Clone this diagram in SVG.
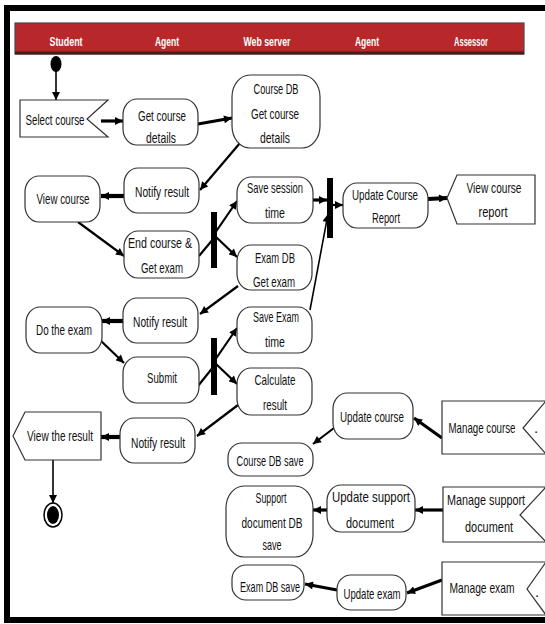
<svg xmlns="http://www.w3.org/2000/svg" width="545" height="624" viewBox="0 0 545 624">
  <style>
    .node { fill: #fff; stroke: #333; stroke-width: 1.2; }
    .t { font-family: "Liberation Sans", Arial, sans-serif; font-size: 15px; fill: #111; text-anchor: middle; }
    .h { font-family: "Liberation Sans", Arial, sans-serif; font-size: 12.5px; font-weight: bold; fill: #fff; text-anchor: middle; }
    .c { fill: none; stroke: #000; stroke-linecap: butt; }
    .w1 { stroke-width: 1.6; }
    .w2 { stroke-width: 2.2; }
    .w3 { stroke-width: 3.2; }
    .w4 { stroke-width: 4.2; }
    .bar { fill: #000; }
  </style>
  <defs>
    <marker id="ah" viewBox="0 0 10 10" refX="10" refY="5" markerUnits="userSpaceOnUse" markerWidth="9" markerHeight="8" orient="auto">
      <path d="M0,0 L10,5 L0,10 Z" fill="#000"/>
    </marker>
  </defs>

  <rect width="545" height="624" fill="#fff"/>
  <!-- outer frame -->
  <rect x="7" y="8" width="600" height="612" fill="none" stroke="#000" stroke-width="6"/>

  <!-- swimlane header -->
  <g id="header">
    <rect x="15" y="23" width="509" height="31" fill="#b8282b" stroke="#4a4a4a" stroke-width="1.2"/>
    <rect x="15" y="51.5" width="509" height="3" fill="#4a1c1c"/>
    <text class="h" x="66" y="46" textLength="33" lengthAdjust="spacingAndGlyphs">Student</text>
    <text class="h" x="167" y="46" textLength="24" lengthAdjust="spacingAndGlyphs">Agent</text>
    <text class="h" x="267" y="46" textLength="47" lengthAdjust="spacingAndGlyphs">Web server</text>
    <text class="h" x="367" y="46" textLength="24" lengthAdjust="spacingAndGlyphs">Agent</text>
    <text class="h" x="471" y="46" textLength="34" lengthAdjust="spacingAndGlyphs">Assessor</text>
  </g>

  <!-- connectors -->
  <g id="connectors">
    <line class="c w1" x1="56" y1="70" x2="56" y2="100" marker-end="url(#ah)"/>
    <line class="c w3" x1="101" y1="121" x2="123" y2="121" marker-end="url(#ah)"/>
    <line class="c w3" x1="198" y1="124" x2="232" y2="118" marker-end="url(#ah)"/>
    <line class="c w2" x1="240" y1="143" x2="200" y2="190" marker-end="url(#ah)"/>
    <line class="c w4" x1="124" y1="196" x2="101" y2="196" marker-end="url(#ah)"/>
    <line class="c w2" x1="78" y1="222" x2="124" y2="256" marker-end="url(#ah)"/>
    <line class="c w2" x1="199" y1="256" x2="214" y2="238"/>
    <line class="c w2" x1="215" y1="233" x2="237" y2="201" marker-end="url(#ah)"/>
    <line class="c w2" x1="215" y1="236" x2="237" y2="257" marker-end="url(#ah)"/>
    <line class="c w3" x1="313" y1="200" x2="327" y2="200" marker-end="url(#ah)"/>
    <line class="c w1" x1="310" y1="310" x2="328" y2="214" marker-end="url(#ah)"/>
    <line class="c w2" x1="333" y1="205" x2="343" y2="205" marker-end="url(#ah)"/>
    <line class="c w4" x1="428" y1="199" x2="447" y2="198" marker-end="url(#ah)"/>
    <line class="c w2" x1="238" y1="286" x2="200" y2="314" marker-end="url(#ah)"/>
    <line class="c w4" x1="123" y1="321" x2="102" y2="321" marker-end="url(#ah)"/>
    <line class="c w2" x1="100" y1="340" x2="124" y2="363" marker-end="url(#ah)"/>
    <line class="c w2" x1="198" y1="386" x2="214" y2="366"/>
    <line class="c w2" x1="215" y1="360" x2="237" y2="328" marker-end="url(#ah)"/>
    <line class="c w2" x1="215" y1="363" x2="237" y2="384" marker-end="url(#ah)"/>
    <line class="c w2" x1="238" y1="405" x2="197" y2="436" marker-end="url(#ah)"/>
    <line class="c w4" x1="120" y1="437" x2="101" y2="437" marker-end="url(#ah)"/>
    <line class="c w1" x1="53" y1="460" x2="53" y2="503" marker-end="url(#ah)"/>
    <line class="c w3" x1="442" y1="438" x2="414" y2="418" marker-end="url(#ah)"/>
    <line class="c w2" x1="334" y1="428" x2="313" y2="444" marker-end="url(#ah)"/>
    <line class="c w3" x1="443" y1="510" x2="415" y2="510" marker-end="url(#ah)"/>
    <line class="c w3" x1="327" y1="510" x2="313" y2="510" marker-end="url(#ah)"/>
    <line class="c w3" x1="442" y1="580" x2="407" y2="593" marker-end="url(#ah)"/>
    <line class="c w3" x1="337" y1="590" x2="305" y2="584" marker-end="url(#ah)"/>
  </g>

  <!-- initial and final states -->
  <g id="start"><ellipse cx="56" cy="64" rx="5.5" ry="8" fill="#000"/></g>
  <g id="end">
    <ellipse cx="53" cy="515" rx="9" ry="12" fill="#fff" stroke="#000" stroke-width="1.5"/>
    <ellipse cx="53" cy="515" rx="6" ry="9" fill="#000"/>
  </g>

  <!-- fork / join bars -->
  <g id="fork1"><rect class="bar" x="211" y="212" width="6" height="56"/></g>
  <g id="fork2"><rect class="bar" x="211" y="338" width="6" height="57"/></g>
  <g id="join1"><rect class="bar" x="327" y="178" width="6" height="60"/></g>

  <!-- Student lane -->
  <g id="select-course">
    <path class="node" d="M20,100 H108 L87,119 L108,137 H20 Z"/>
    <text class="t" x="55" y="125" textLength="59" lengthAdjust="spacingAndGlyphs">Select course</text>
  </g>
  <g id="view-course">
    <rect class="node" x="25" y="176" width="75" height="46" rx="14" ry="16"/>
    <text class="t" x="63" y="204" textLength="53" lengthAdjust="spacingAndGlyphs">View course</text>
  </g>
  <g id="do-exam">
    <rect class="node" x="26" y="307" width="76" height="46" rx="14" ry="16"/>
    <text class="t" x="64" y="335" textLength="56" lengthAdjust="spacingAndGlyphs">Do the exam</text>
  </g>
  <g id="view-result">
    <path class="node" d="M25,412 H101 V460 H25 L13,436 Z"/>
    <text class="t" x="60" y="441" textLength="66" lengthAdjust="spacingAndGlyphs">View the result</text>
  </g>

  <!-- Agent lane -->
  <g id="get-course-details">
    <rect class="node" x="123" y="99" width="75" height="46" rx="14" ry="16"/>
    <text class="t" x="162" y="121" textLength="48" lengthAdjust="spacingAndGlyphs">Get course</text>
    <text class="t" x="161" y="143" textLength="30" lengthAdjust="spacingAndGlyphs">details</text>
  </g>
  <g id="notify-result-1">
    <rect class="node" x="124" y="168" width="75" height="45" rx="14" ry="16"/>
    <text class="t" x="162" y="197" textLength="54" lengthAdjust="spacingAndGlyphs">Notify result</text>
  </g>
  <g id="end-course">
    <rect class="node" x="124" y="231" width="75" height="47" rx="14" ry="16"/>
    <text class="t" x="160" y="248" textLength="64" lengthAdjust="spacingAndGlyphs">End course &amp;</text>
    <text class="t" x="162" y="273" textLength="42" lengthAdjust="spacingAndGlyphs">Get exam</text>
  </g>
  <g id="notify-result-2">
    <rect class="node" x="123" y="298" width="75" height="45" rx="14" ry="16"/>
    <text class="t" x="160" y="327" textLength="54" lengthAdjust="spacingAndGlyphs">Notify result</text>
  </g>
  <g id="submit">
    <rect class="node" x="123" y="357" width="76" height="46" rx="14" ry="16"/>
    <text class="t" x="162" y="383" textLength="30" lengthAdjust="spacingAndGlyphs">Submit</text>
  </g>
  <g id="notify-result-3">
    <rect class="node" x="120" y="418" width="75" height="45" rx="14" ry="16"/>
    <text class="t" x="158" y="448" textLength="54" lengthAdjust="spacingAndGlyphs">Notify result</text>
  </g>

  <!-- Web server lane -->
  <g id="course-db">
    <rect class="node" x="232" y="75" width="88" height="73" rx="18" ry="22"/>
    <text class="t" x="276" y="94" textLength="45" lengthAdjust="spacingAndGlyphs">Course DB</text>
    <text class="t" x="275" y="119" textLength="48" lengthAdjust="spacingAndGlyphs">Get course</text>
    <text class="t" x="275" y="143" textLength="30" lengthAdjust="spacingAndGlyphs">details</text>
  </g>
  <g id="save-session">
    <rect class="node" x="237" y="177" width="76" height="46" rx="14" ry="16"/>
    <text class="t" x="275" y="193" textLength="56" lengthAdjust="spacingAndGlyphs">Save session</text>
    <text class="t" x="275" y="218" textLength="20" lengthAdjust="spacingAndGlyphs">time</text>
  </g>
  <g id="exam-db">
    <rect class="node" x="237" y="245" width="75" height="45" rx="14" ry="16"/>
    <text class="t" x="275" y="263" textLength="40" lengthAdjust="spacingAndGlyphs">Exam DB</text>
    <text class="t" x="274" y="287" textLength="42" lengthAdjust="spacingAndGlyphs">Get exam</text>
  </g>
  <g id="save-exam-time">
    <rect class="node" x="237" y="307" width="75" height="46" rx="14" ry="16"/>
    <text class="t" x="276" y="322" textLength="46" lengthAdjust="spacingAndGlyphs">Save Exam</text>
    <text class="t" x="275" y="347" textLength="20" lengthAdjust="spacingAndGlyphs">time</text>
  </g>
  <g id="calculate-result">
    <rect class="node" x="237" y="368" width="75" height="47" rx="14" ry="16"/>
    <text class="t" x="275" y="385" textLength="41" lengthAdjust="spacingAndGlyphs">Calculate</text>
    <text class="t" x="275" y="410" textLength="24" lengthAdjust="spacingAndGlyphs">result</text>
  </g>
  <g id="course-db-save">
    <rect class="node" x="228" y="443" width="85" height="33" rx="14" ry="14"/>
    <text class="t" x="270" y="466" textLength="67" lengthAdjust="spacingAndGlyphs">Course DB save</text>
  </g>
  <g id="support-db-save">
    <rect class="node" x="226" y="486" width="87" height="71" rx="18" ry="22"/>
    <text class="t" x="271" y="503" textLength="31" lengthAdjust="spacingAndGlyphs">Support</text>
    <text class="t" x="272" y="528" textLength="61" lengthAdjust="spacingAndGlyphs">document DB</text>
    <text class="t" x="272" y="550" textLength="19" lengthAdjust="spacingAndGlyphs">save</text>
  </g>
  <g id="exam-db-save">
    <rect class="node" x="232" y="565" width="72" height="35" rx="14" ry="14"/>
    <text class="t" x="270" y="592" textLength="60" lengthAdjust="spacingAndGlyphs">Exam DB save</text>
  </g>

  <!-- second Agent lane -->
  <g id="update-course-report">
    <rect class="node" x="343" y="183" width="85" height="45" rx="14" ry="16"/>
    <text class="t" x="385" y="200" textLength="66" lengthAdjust="spacingAndGlyphs">Update Course</text>
    <text class="t" x="386" y="223" textLength="28" lengthAdjust="spacingAndGlyphs">Report</text>
  </g>
  <g id="update-course">
    <rect class="node" x="333" y="393" width="80" height="46" rx="14" ry="16"/>
    <text class="t" x="372" y="422" textLength="64" lengthAdjust="spacingAndGlyphs">Update course</text>
  </g>
  <g id="update-support">
    <rect class="node" x="327" y="485" width="88" height="47" rx="14" ry="16"/>
    <text class="t" x="371" y="502" textLength="78" lengthAdjust="spacingAndGlyphs">Update support</text>
    <text class="t" x="370" y="528" textLength="48" lengthAdjust="spacingAndGlyphs">document</text>
  </g>
  <g id="update-exam">
    <rect class="node" x="337" y="575" width="69" height="35" rx="14" ry="14"/>
    <text class="t" x="372" y="599" textLength="57" lengthAdjust="spacingAndGlyphs">Update exam</text>
  </g>

  <!-- Assessor lane -->
  <g id="view-course-report">
    <path class="node" d="M457,175 H535 V224 H457 L447,198 Z"/>
    <text class="t" x="494" y="193" textLength="55" lengthAdjust="spacingAndGlyphs">View course</text>
    <text class="t" x="493" y="217" textLength="29" lengthAdjust="spacingAndGlyphs">report</text>
  </g>
  <g id="manage-course">
    <path class="node" d="M442,401 H546 L523,428 L546,454 H442 Z"/>
    <text class="t" x="482" y="433" textLength="67" lengthAdjust="spacingAndGlyphs">Manage course</text>
    <text class="t" x="536" y="433">.</text>
  </g>
  <g id="manage-support">
    <path class="node" d="M443,487 H546 L520,515 L546,542 H443 Z"/>
    <text class="t" x="486" y="505" textLength="78" lengthAdjust="spacingAndGlyphs">Manage support</text>
    <text class="t" x="489" y="532" textLength="48" lengthAdjust="spacingAndGlyphs">document</text>
  </g>
  <g id="manage-exam">
    <path class="node" d="M442,562 H546 L527,589 L546,615 H442 Z"/>
    <text class="t" x="482" y="593" textLength="65" lengthAdjust="spacingAndGlyphs">Manage exam</text>
    <text class="t" x="537" y="597">.</text>
  </g>
</svg>
